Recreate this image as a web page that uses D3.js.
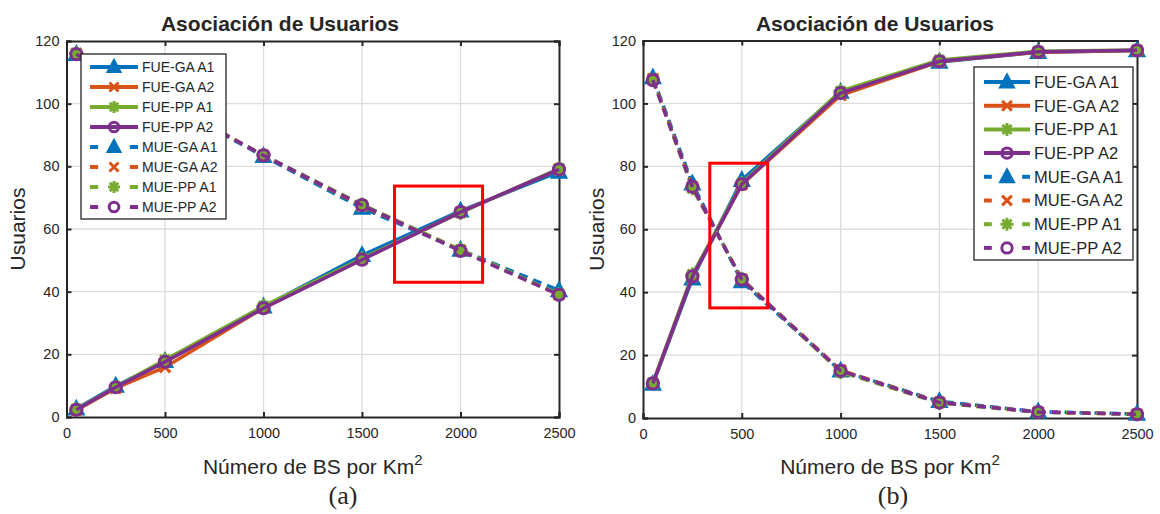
<!DOCTYPE html>
<html>
<head>
<meta charset="utf-8">
<script src="https://cdn.jsdelivr.net/npm/d3@7"></script>
<style>
  body { margin: 0; background: #fff; }
  svg text { font-family: "Liberation Sans", Arial, sans-serif; fill: #262626; }
</style>
</head>
<body>
<svg id="main-svg" width="1160" height="514"></svg>
<script>
// x values (BS por Km^2)
let xVals = [50, 250, 500, 1000, 1500, 2000, 2500];
let xTicks = [0, 500, 1000, 1500, 2000, 2500];
let yTicks = [0, 20, 40, 60, 80, 100, 120];

let seriesNames = ["FUE-GA A1", "FUE-GA A2", "FUE-PP A1", "FUE-PP A2",
                   "MUE-GA A1", "MUE-GA A2", "MUE-PP A1", "MUE-PP A2"];

// panel (a)
let fueGaA1_a = [2.6, 9.9, 17.8, 35.2, 51.6, 65.8, 78.2];
let fueGaA2_a = [2.2, 9.2, 15.9, 34.8, 50.3, 65.4, 79.0];
let fuePpA1_a = [2.5, 9.6, 18.3, 35.4, 50.6, 65.2, 79.3];
let fuePpA2_a = [2.3, 9.5, 17.6, 34.7, 50.2, 65.4, 79.0];
let mueGaA1_a = [115.8, 108.5, 100.4, 83.2, 66.7, 53.3, 40.4];
let mueGaA2_a = [116.0, 108.6, 100.6, 83.5, 67.4, 53.2, 39.1];
let muePpA1_a = [116.0, 108.5, 100.5, 83.6, 67.8, 53.4, 39.2];
let muePpA2_a = [115.8, 108.5, 100.5, 83.5, 67.6, 53.0, 39.0];

// panel (b)
let fueGaA1_b = [10.8, 44.3, 75.6, 103.6, 113.2, 116.3, 116.8];
let fueGaA2_b = [11.0, 45.0, 74.2, 102.6, 113.3, 116.3, 116.8];
let fuePpA1_b = [11.2, 45.6, 74.6, 103.9, 113.8, 116.6, 117.0];
let fuePpA2_b = [11.0, 45.0, 74.3, 103.3, 113.4, 116.4, 116.9];
let mueGaA1_b = [108.2, 74.5, 43.4, 15.0, 5.3, 2.0, 1.3];
let mueGaA2_b = [107.8, 73.5, 44.1, 15.2, 5.0, 1.9, 1.2];
let muePpA1_b = [107.5, 73.0, 44.2, 14.6, 4.8, 1.8, 1.2];
let muePpA2_b = [107.4, 73.5, 44.0, 15.0, 4.9, 1.9, 1.2];

// zoom boxes (data units)
let boxA = { x0: 1665, x1: 2112, y0: 43, y1: 73.7 };
let boxB = { x0: 338, x1: 631, y0: 35, y1: 81 };

let colors = ["#0072BD", "#D95319", "#77AC30", "#7E2F8E"];
let markers = ["triangle", "x", "star", "circle"];

let svg = d3.select("#main-svg");

function markerPath(type, r) {
    let p = d3.path();
    if (type == "triangle") {
        p.moveTo(0, -r); p.lineTo(r * 0.95, r * 0.75); p.lineTo(-r * 0.95, r * 0.75); p.closePath();
    } else if (type == "x") {
        p.moveTo(-r * 0.75, -r * 0.75); p.lineTo(r * 0.75, r * 0.75);
        p.moveTo(r * 0.75, -r * 0.75); p.lineTo(-r * 0.75, r * 0.75);
    } else if (type == "star") {
        p.moveTo(0, -r); p.lineTo(0, r);
        p.moveTo(-r, 0); p.lineTo(r, 0);
        p.moveTo(-r * 0.7, -r * 0.7); p.lineTo(r * 0.7, r * 0.7);
        p.moveTo(r * 0.7, -r * 0.7); p.lineTo(-r * 0.7, r * 0.7);
    } else {
        p.arc(0, 0, r * 0.8, 0, 2 * Math.PI);
    }
    return p.toString();
}

function drawPanel(cfg) {
    let g = svg.append("g");
    let x = d3.scaleLinear().domain([0, 2500]).range([cfg.left, cfg.right]);
    let y = d3.scaleLinear().domain([0, 120]).range([cfg.bottom, cfg.top]);

    // grid
    g.selectAll(".gx").data(xTicks.slice(1, -1)).enter().append("line")
        .attr("x1", d => x(d)).attr("x2", d => x(d))
        .attr("y1", cfg.top).attr("y2", cfg.bottom)
        .attr("stroke", "#dcdcdc").attr("stroke-width", 1.3);
    g.selectAll(".gy").data(yTicks.slice(1, -1)).enter().append("line")
        .attr("y1", d => y(d)).attr("y2", d => y(d))
        .attr("x1", cfg.left).attr("x2", cfg.right)
        .attr("stroke", "#dcdcdc").attr("stroke-width", 1.3);

    // axes with inward ticks on all four sides
    let ax = g.append("g");
    ax.append("g").attr("transform", "translate(0," + cfg.bottom + ")")
        .call(d3.axisBottom(x).tickValues(xTicks).tickSize(-5).tickPadding(11).tickFormat(d3.format("d")));
    ax.append("g").attr("transform", "translate(0," + cfg.top + ")")
        .call(d3.axisTop(x).tickValues(xTicks).tickSize(-5).tickFormat(""));
    ax.append("g").attr("transform", "translate(" + cfg.left + ",0)")
        .call(d3.axisLeft(y).tickValues(yTicks).tickSize(-5).tickPadding(7));
    ax.append("g").attr("transform", "translate(" + cfg.right + ",0)")
        .call(d3.axisRight(y).tickValues(yTicks).tickSize(-5).tickFormat(""));
    ax.selectAll(".domain").attr("stroke", "#262626").attr("stroke-width", 2);
    ax.selectAll(".tick line").attr("stroke", "#262626").attr("stroke-width", 2);
    ax.selectAll(".tick text").style("font-size", "14.5px").attr("fill", "#262626")
        .style("font-family", "Liberation Sans, Arial, sans-serif");

    let line = d3.line().x((d, i) => x(xVals[i])).y(d => y(d));

    // series
    cfg.series.forEach(function (s, k) {
        let ci = k % 4;
        let dashed = k >= 4;
        let sg = g.append("g");
        sg.append("path").datum(s)
            .attr("d", line)
            .attr("fill", "none")
            .attr("stroke", colors[ci])
            .attr("stroke-width", 3.5)
            .attr("stroke-dasharray", dashed ? "9,6" : null);
        sg.selectAll("path.m").data(s).enter().append("path")
            .attr("class", "m")
            .attr("transform", (d, i) => "translate(" + x(xVals[i]) + "," + y(d) + ")")
            .attr("d", markerPath(markers[ci], 7))
            .attr("fill", "none")
            .attr("stroke", colors[ci])
            .attr("stroke-width", 3);
    });

    // red zoom box
    g.append("rect")
        .attr("x", x(cfg.box.x0)).attr("y", y(cfg.box.y1))
        .attr("width", x(cfg.box.x1) - x(cfg.box.x0))
        .attr("height", y(cfg.box.y0) - y(cfg.box.y1))
        .attr("fill", "none").attr("stroke", "#ff0000").attr("stroke-width", 3);

    // legend
    let L = cfg.legend;
    let lg = g.append("g");
    lg.append("rect").attr("x", L.x).attr("y", L.y).attr("width", L.w).attr("height", L.h)
        .attr("fill", "#fff").attr("stroke", "#262626").attr("stroke-width", 1.3);
    seriesNames.forEach(function (name, k) {
        let ci = k % 4;
        let yy = L.y + L.first + k * L.step;
        let x0 = L.x + L.pad, x1 = L.x + L.pad + L.len, xm = (x0 + x1) / 2;
        if (k < 4) {
            lg.append("line").attr("x1", x0).attr("x2", x1).attr("y1", yy).attr("y2", yy)
                .attr("stroke", colors[ci]).attr("stroke-width", 4);
        } else {
            lg.append("line").attr("x1", x0).attr("x2", x0 + L.len * 0.17).attr("y1", yy).attr("y2", yy)
                .attr("stroke", colors[ci]).attr("stroke-width", 4);
            lg.append("line").attr("x1", x1 - L.len * 0.17).attr("x2", x1).attr("y1", yy).attr("y2", yy)
                .attr("stroke", colors[ci]).attr("stroke-width", 4);
        }
        lg.append("path").attr("transform", "translate(" + xm + "," + yy + ")")
            .attr("d", markerPath(markers[ci], L.mr))
            .attr("fill", markers[ci] == "triangle" ? colors[ci] : (k >= 4 ? "#fff" : "none"))
            .attr("stroke", colors[ci]).attr("stroke-width", 3);
        lg.append("text").attr("x", x1 + 4).attr("y", yy).attr("dy", "0.36em")
            .style("font-size", L.fs + "px").text(name);
    });

    // title, labels
    g.append("text").attr("x", cfg.titleX).attr("y", 31).attr("text-anchor", "middle")
        .style("font-size", "21px").style("font-weight", "bold").attr("fill", "#000")
        .text("Asociación de Usuarios");
    g.append("text")
        .attr("transform", "translate(" + cfg.ylabX + "," + ((cfg.top + cfg.bottom) / 2) + ") rotate(-90)")
        .attr("text-anchor", "middle").style("font-size", "21px").text("Usuarios");
    let xl = g.append("text").attr("x", (cfg.left + cfg.right) / 2).attr("y", 474)
        .attr("text-anchor", "middle").style("font-size", "21px");
    xl.append("tspan").text("Número de BS por Km");
    xl.append("tspan").attr("dy", -9).style("font-size", "15px").text("2");
    g.append("text").attr("x", cfg.capX).attr("y", 504).attr("text-anchor", "middle")
        .style("font-family", "Liberation Serif, Times New Roman, serif")
        .style("font-size", "26px").attr("fill", "#000").text(cfg.caption);
}

drawPanel({
    left: 66.5, right: 559, top: 41, bottom: 417,
    series: [fueGaA1_a, fueGaA2_a, fuePpA1_a, fuePpA2_a, mueGaA1_a, mueGaA2_a, muePpA1_a, muePpA2_a],
    box: boxA,
    legend: { x: 81, y: 54, w: 145, h: 165, first: 13, step: 20, pad: 9, len: 48, fs: 14, mr: 6 },
    titleX: 280, ylabX: 25, capX: 343, caption: "(a)"
});

drawPanel({
    left: 643, right: 1137, top: 40.5, bottom: 418,
    series: [fueGaA1_b, fueGaA2_b, fuePpA1_b, fuePpA2_b, mueGaA1_b, mueGaA2_b, muePpA1_b, muePpA2_b],
    box: boxB,
    legend: { x: 974, y: 67, w: 159, h: 193, first: 15, step: 23.7, pad: 10, len: 46, fs: 16.5, mr: 6.5 },
    titleX: 875, ylabX: 604, capX: 893, caption: "(b)"
});
</script>
</body>
</html>
